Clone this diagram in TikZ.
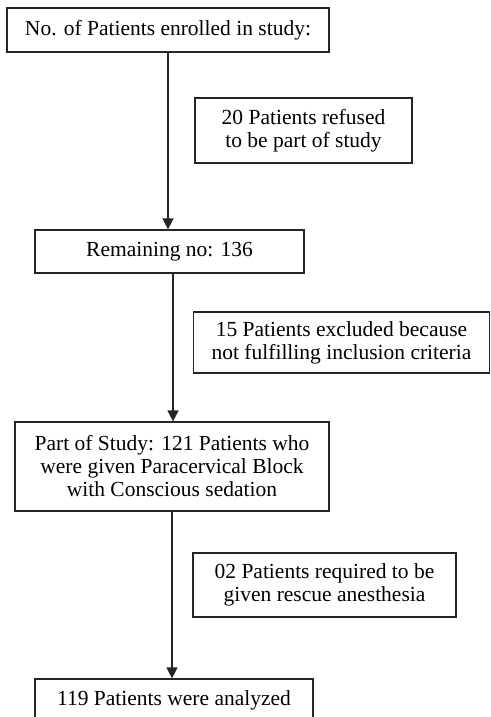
\documentclass[tikz,border=0pt]{standalone}
\usepackage{fontspec}
\setmainfont{Liberation Serif}
\usetikzlibrary{arrows.meta}
\begin{document}
\begin{tikzpicture}[x=1pt,y=-1pt,
  box/.style={draw=black!85,line width=1.2pt,rectangle,inner sep=0pt,align=center,
    font=\fontsize{21.5}{23}\selectfont},
  arr/.style={draw=black!85,line width=1.4pt,-{Triangle[width=11pt,length=11pt]}}]
\useasboundingbox (0,0) rectangle (490,717);
\node[box,minimum width=322pt,minimum height=44pt] (b1) at (168,30) {No. of Patients enrolled in study:};
\node[box,minimum width=217pt,minimum height=65pt] (b2) at (303.5,130.5) {20 Patients refused\\to be part of study};
\node[box,minimum width=269pt,minimum height=43pt] (b3) at (169.5,251.5) {Remaining no: 136};
\node[box,minimum width=296pt,minimum height=61pt] (b4) at (341.5,342.5) {15 Patients excluded because\\not fulfilling inclusion criteria};
\node[box,minimum width=314pt,minimum height=89pt] (b5) at (172,466.5) {Part of Study: 121 Patients who\\were given Paracervical Block\\with Conscious sedation};
\node[box,minimum width=263pt,minimum height=64pt] (b6) at (324.5,585) {02 Patients required to be\\given rescue anesthesia};
\node[box,minimum width=278pt,minimum height=42pt] (b7) at (174,700) {119 Patients were analyzed};
\draw[arr] (b1.south) -- (b1.south |- b3.north);
\draw[arr] ([xshift=3.5pt]b3.south) -- ([xshift=3.5pt]b3.south |- b5.north);
\draw[arr] (b5.south) -- (b5.south |- b7.north);
\end{tikzpicture}
\end{document}
